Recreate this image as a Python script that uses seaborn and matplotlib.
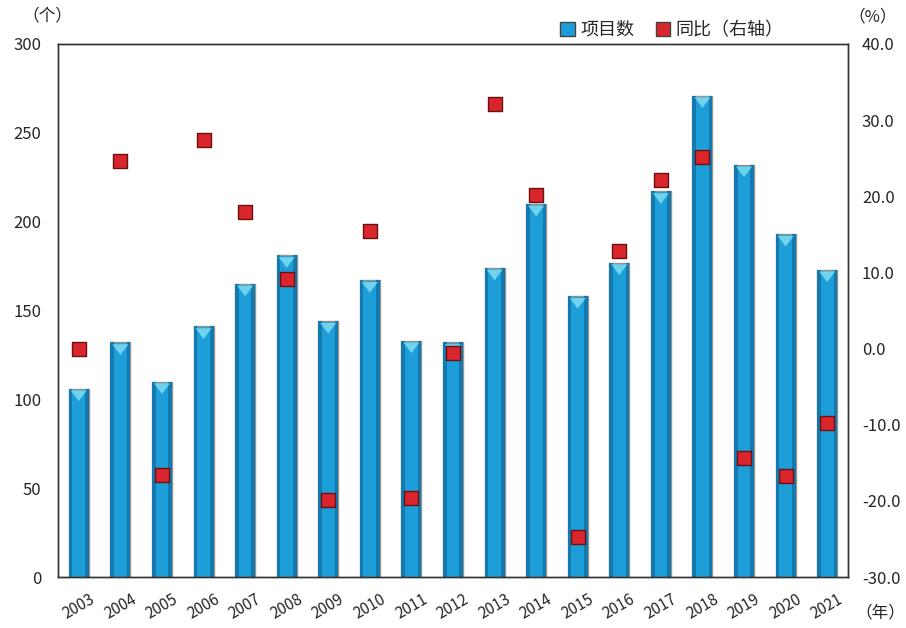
import matplotlib
matplotlib.use("Agg")
import matplotlib.pyplot as plt
import seaborn as sns
import pandas as pd
import numpy as np
from matplotlib.patches import Patch

years = ["2003", "2004", "2005", "2006", "2007", "2008", "2009", "2010", "2011", "2012",
         "2013", "2014", "2015", "2016", "2017", "2018", "2019", "2020", "2021"]
projects = [106, 132, 110, 141, 165, 181, 144, 167, 133, 132,
            174, 210, 158, 177, 217, 271, 232, 193, 173]
yoy = [0.0, 24.6, -16.6, 27.4, 17.9, 9.1, -19.9, 15.4, -19.6, -0.6,
       32.1, 20.2, -24.8, 12.8, 22.1, 25.1, -14.4, -16.8, -9.8]
left_ticks = [0, 50, 100, 150, 200, 250, 300]
right_ticks = [-30, -20, -10, 0, 10, 20, 30, 40]

sns.set_theme(style="white")
plt.rcParams['font.family'] = ['Noto Sans CJK SC', 'DejaVu Sans']

df = pd.DataFrame({"year": years, "projects": projects, "yoy": yoy})

fig = plt.figure(figsize=(9.06, 6.28), dpi=100)
ax = fig.add_axes([58/906, 1-577/628, (848-58)/906, (577-44)/628])

sns.barplot(data=df, x="year", y="projects", ax=ax, color="#1E9ED8",
            width=0.48, edgecolor="#9a948c", linewidth=1.0, saturation=1)
# shading: darker edges for cylinder-like look
for p in list(ax.patches):
    x0, w, h = p.get_x(), p.get_width(), p.get_height()
    ax.add_patch(plt.Rectangle((x0, 0), w*0.18, h, color="#1479AE", lw=0, zorder=p.get_zorder()+0.1))
    ax.add_patch(plt.Rectangle((x0 + w*0.82, 0), w*0.18, h, color="#1479AE", lw=0, zorder=p.get_zorder()+0.1))
    ax.add_patch(plt.Polygon([(x0+w*0.1, h-1), (x0+w*0.9, h-1), (x0+w*0.5, h-7)],
                             closed=True, color="#6FD3EE", lw=0, zorder=p.get_zorder()+0.2))

ax.set_xlim(-0.5, len(years)-0.5)
ax.set_ylim(0, 300)
ax.set_yticks(left_ticks)
ax.set_yticklabels([str(v) for v in left_ticks], fontsize=12)
ax.set_xlabel("")
ax.set_ylabel("")
ax.tick_params(axis="x", length=0, pad=10)
ax.tick_params(axis="y", length=0, pad=12)
for lbl in ax.get_xticklabels():
    lbl.set_rotation(30)
    lbl.set_ha("center")
    lbl.set_fontsize(11)
for s in ax.spines.values():
    s.set_color("#333333")
    s.set_linewidth(1.0)

ax2 = ax.twinx()
sns.scatterplot(data=df, x="year", y="yoy", ax=ax2, marker="s", s=95,
                color="#D9262C", edgecolor="#6b1010", linewidth=1.0, zorder=5)
ax2.set_ylim(-30, 40)
ax2.set_yticks(right_ticks)
ax2.set_yticklabels([f"{v:.1f}" for v in right_ticks], fontsize=12)
ax2.set_ylabel("")
ax2.tick_params(axis="y", length=0, pad=10)
for s in ax2.spines.values():
    s.set_color("#333333")
    s.set_linewidth(1.0)

fig.text(47/906, 1-16/628, "（个）", fontsize=12, ha="center", va="center")
fig.text(873/906, 1-17/628, "（%）", fontsize=12, ha="center", va="center")
fig.text(880/906, 1-613/628, "（年）", fontsize=12, ha="center", va="center")

handles = [Patch(facecolor="#1E9ED8", edgecolor="#444444", label="项目数"),
           Patch(facecolor="#D9262C", edgecolor="#444444", label="同比（右轴）")]
fig.legend(handles=handles, loc="center", bbox_to_anchor=(672/906, 1-30/628), ncol=2,
           frameon=False, fontsize=13, handlelength=0.8, handleheight=0.8,
           handletextpad=0.3, columnspacing=1.2)

fig.savefig("out.png", dpi=100)
